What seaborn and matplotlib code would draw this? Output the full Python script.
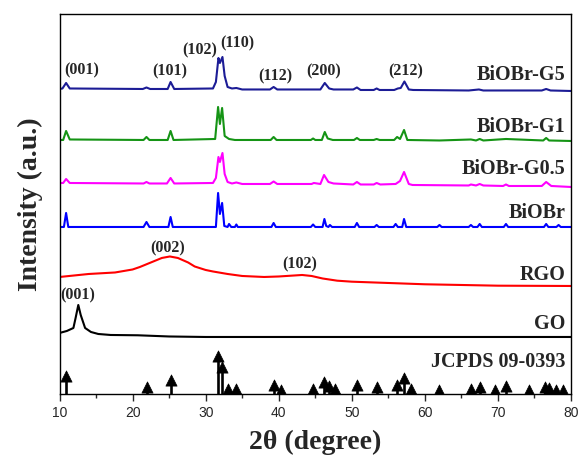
import numpy as np
import matplotlib
matplotlib.use("Agg")
import matplotlib.pyplot as plt
import matplotlib.transforms as mtransforms
import seaborn as sns

# --- data (2theta in degree, intensity in a.u. incl. stack offset) ---
go_x = [10, 11.0, 11.9, 12.2, 12.57, 12.9, 13.5, 14.3, 15.3, 17, 20.7, 25, 30, 80]
go_y = [61, 63, 66, 76, 89, 79, 66, 62, 60, 59, 58.7, 57.5, 57, 57]

rgo_x = [10, 14, 17.6, 20, 21, 23, 24, 25.1, 26.2, 27.6, 28.5, 30, 31, 33, 35, 38, 40,
         41.5, 43.2, 44.5, 46, 48, 50, 55, 60, 70, 80]
rgo_y = [117, 120, 121.5, 124.5, 127, 133, 136, 137.5, 136, 131.5, 127.5, 124, 122.5,
         120, 118, 117, 117.5, 118.2, 119, 118, 115.5, 113.3, 112.3, 111, 109.7, 108.3, 108]

biobr_x = [10, 10.6, 10.9, 11.2, 21.5, 21.9, 22.3, 24.9, 25.2, 25.5, 31.4, 31.7, 31.95,
           32.25, 32.55, 33.0, 33.2, 33.5, 34.0, 34.2, 34.4, 39.0, 39.3, 39.6, 44.4, 44.7,
           45.0, 46.0, 46.25, 46.5, 46.8, 47.0, 47.3, 50.4, 50.7, 51.0, 53.1, 53.4, 53.7,
           55.7, 56.0, 56.3, 56.9, 57.15, 57.45, 61.7, 62.0, 62.3, 66.0, 66.3, 66.6, 67.2,
           67.5, 67.8, 70.8, 71.1, 71.4, 76.3, 76.6, 76.9, 78.0, 78.3, 78.6, 80]
biobr_y = [167, 167, 181, 167, 167, 172, 167, 167, 177, 167, 167, 201, 180,
           191, 168, 167, 170, 167, 167, 169.5, 167, 167, 171, 167, 167, 169.5,
           167, 167, 175, 168, 167, 169, 167, 167, 171, 167, 167, 169, 167,
           167, 170, 167, 167, 175, 167, 167, 169, 167, 167, 169, 167, 167,
           170, 167, 167, 170, 167, 167, 170, 167, 167, 169, 167, 167]

g05_x = [10, 10.5, 10.9, 11.4, 21.5, 21.9, 22.3, 24.7, 25.2, 25.7, 31.0, 31.4, 31.75,
         31.95, 32.3, 32.6, 33.0, 33.6, 34.2, 35, 38.8, 39.3, 39.8, 44.5, 44.8, 45.7, 46.2,
         46.8, 47.5, 50.2, 50.7, 51.2, 53.0, 53.4, 53.9, 56.0, 56.6, 57.15, 57.8, 58.3,
         66.0, 66.3, 67.0, 67.5, 68.0, 70.7, 71.1, 71.5, 76.0, 76.6, 77.3, 80]
g05_y = [211, 211, 215, 211, 210.5, 212, 210.5, 210.5, 216, 210.5, 211, 216, 237,
         232, 241, 220, 212, 210.5, 211.5, 210, 210, 212.5, 210, 210, 211, 210, 219,
         212, 210.5, 209.5, 212, 209.5, 209.5, 211, 209.5, 210, 213, 222, 210, 209,
         208.5, 209.5, 208.5, 210, 208.5, 208, 209.5, 208, 208, 212, 208, 207]

g1_x = [10, 10.5, 10.9, 11.4, 21.5, 21.9, 22.3, 24.8, 25.2, 25.6, 31.3, 31.7, 31.95,
        32.25, 32.6, 33.2, 34.0, 38.9, 39.3, 39.7, 44.4, 44.7, 45.0, 45.9, 46.3, 46.7,
        47.4, 50.3, 50.7, 51.1, 53.0, 53.4, 53.8, 55.8, 56.2, 56.6, 57.15, 57.6, 62,
        66.3, 67.0, 67.5, 68, 71.1, 76.2, 76.6, 77, 80]
g1_y = [254, 254, 263, 254.5, 254, 257, 254, 254, 263, 254, 255, 287, 270,
        286, 258, 255, 254, 254, 257, 254, 254, 255.5, 254, 254, 262, 255.5,
        254, 254, 256, 254, 254, 255, 254, 254, 257, 255, 264, 254, 253.5,
        254.5, 253.5, 255, 253.5, 255, 253.5, 256, 253.5, 253]

g5_x = [10, 10.4, 10.9, 11.4, 21.4, 21.9, 22.4, 24.8, 25.2, 25.7, 31.0, 31.4, 31.75,
        31.95, 32.3, 32.6, 33.0, 33.6, 34.2, 35, 38.8, 39.3, 39.8, 45.7, 46.3, 46.9, 47.5,
        50.2, 50.7, 51.2, 53.0, 53.4, 53.8, 55.8, 56.3, 56.7, 57.2, 57.8, 58.4, 66.0,
        67.4, 68, 76.0, 76.6, 77.2, 80]
g5_y = [305, 305.5, 311, 305.5, 305, 306.5, 305, 305, 312, 305, 305.5, 312, 336,
        331, 337, 318, 307, 305.5, 306, 304.5, 304.5, 307, 304.5, 304.5, 311, 305.5, 304.5,
        304.5, 306.5, 304, 304, 305.5, 304, 304, 305.5, 306, 312.5, 304.5, 304, 303.5,
        304.5, 303.5, 303.5, 305, 303.5, 303]

# JCPDS 09-0393 stick pattern
jcpds_pos = [10.95, 22.0, 25.2, 31.7, 32.25, 33.1, 34.1, 39.35, 40.3, 44.7, 46.2, 46.9,
             47.7, 50.75, 53.4, 56.2, 57.15, 58.1, 62.0, 66.3, 67.5, 69.6, 71.05, 74.25,
             76.4, 76.95, 77.95, 78.85]
jcpds_h = [21.5, 11, 17.5, 41.5, 31, 9, 9, 12.5, 8, 8.5, 16, 11.5,
           9, 12.5, 11, 12.5, 20, 9, 7.5, 9, 10.5, 7.5, 11.5, 7.5,
           10.5, 10, 7.5, 7.5]

curves = [
    (g5_x, g5_y, "#1c1c96", "BiOBr-G5", 319),
    (g1_x, g1_y, "#159415", "BiOBr-G1", 267),
    (g05_x, g05_y, "#ff00ff", "BiOBr-G0.5", 225),
    (biobr_x, biobr_y, "#0000ff", "BiOBr", 181),
    (rgo_x, rgo_y, "#ff0000", "RGO", 119),
    (go_x, go_y, "#000000", "GO", 70),
]

hkl_g5 = ["(001)", "(101)", "(102)", "(110)", "(112)", "(200)", "(212)"]
hkl_g5_x = [13.0, 25.1, 29.2, 34.4, 39.5, 46.2, 57.4]
hkl_g5_y = [324, 323, 344, 351, 318, 323, 323]
hkl_rgo = ["(002)", "(102)"]
hkl_rgo_x = [24.85, 42.9]
hkl_rgo_y = [146, 130]
hkl_go = ["(001)"]
hkl_go_x = [12.5]
hkl_go_y = [99]

sns.set_style("ticks")
serif = "Liberation Serif"
sans = "Liberation Sans"

fig = plt.figure(figsize=(5.79, 4.57), dpi=100)
ax = fig.add_axes([0.1028, 0.1379, 0.8834, 0.8315])

for xs, ys, col, name, ly in curves:
    sns.lineplot(x=xs, y=ys, ax=ax, color=col, linewidth=1.5, estimator=None, sort=False)

ax.vlines(jcpds_pos, 0, np.array(jcpds_h) - 3, color="black", linewidth=1.9)
sns.scatterplot(x=jcpds_pos, y=np.array(jcpds_h) - 3.8, ax=ax, marker="^", s=65,
                color="black", edgecolor="black", linewidth=0.5, zorder=3)

lab = mtransforms.blended_transform_factory(ax.transAxes, ax.transData)
for xs, ys, col, name, ly in curves:
    ax.text(0.989, ly, name, transform=lab, ha="right", va="center",
            fontsize=14.5, fontweight="bold", family=serif)
ax.text(0.989, 32, "JCPDS 09-0393", transform=lab, ha="right", va="center",
        fontsize=14.5, fontweight="bold", family=serif)

for labels, xs, ys in [(hkl_g5, hkl_g5_x, hkl_g5_y), (hkl_rgo, hkl_rgo_x, hkl_rgo_y),
                       (hkl_go, hkl_go_x, hkl_go_y)]:
    for t, x, y in zip(labels, xs, ys):
        ax.text(x, y, t, ha="center", va="center", fontsize=11.5,
                fontweight="bold", family=serif)

ax.set_xlim(10, 80)
ax.set_ylim(0, 380)
ax.set_yticks([])
ax.set_xticks(np.arange(10, 81, 10))
ax.set_xticks(np.arange(15, 80, 10), minor=True)
ax.tick_params(axis="x", which="major", direction="out", length=5, width=1,
               labelsize=10, pad=4)
ax.tick_params(axis="x", which="minor", direction="out", length=3, width=1)
for t in ax.get_xticklabels():
    t.set_family(sans)
for s in ax.spines.values():
    s.set_visible(True)
    s.set_linewidth(1.0)
    s.set_color("black")

ax.set_xlabel("2θ (degree)", fontsize=20, fontweight="bold", family=serif, labelpad=7)
ax.set_ylabel("Intensity (a.u.)", fontsize=20, fontweight="bold", family=serif, labelpad=12)

fig.savefig("out.png", dpi=100)
